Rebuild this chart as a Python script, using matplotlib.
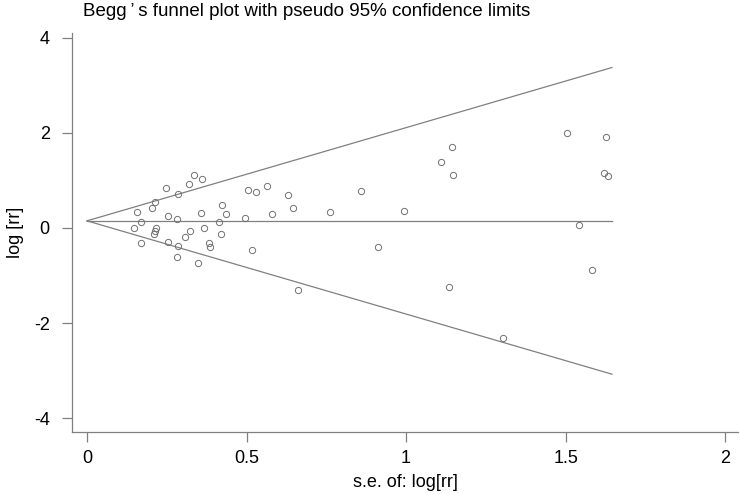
import numpy as np
import matplotlib
matplotlib.use("Agg")
import matplotlib.pyplot as plt

plt.rcParams['font.family'] = ['Liberation Sans', 'DejaVu Sans']
plt.rcParams['axes.unicode_minus'] = False

# standard error of log[rr] and log[rr] for each study
se = [0.156, 0.169, 0.147, 0.170, 0.205, 0.214, 0.217, 0.213, 0.210, 0.247,
      0.253, 0.253, 0.286, 0.281, 0.284, 0.281, 0.321, 0.335, 0.360, 0.324,
      0.308, 0.356, 0.367, 0.348, 0.381, 0.384, 0.414, 0.423, 0.435, 0.419,
      0.494, 0.503, 0.529, 0.516, 0.563, 0.581, 0.629, 0.644, 0.662, 0.760,
      0.858, 0.994, 0.911, 1.144, 1.110, 1.147, 1.135, 1.303, 1.504, 1.627,
      1.620, 1.634, 1.541, 1.583]
logrr = [0.34, 0.13, 0.01, -0.32, 0.42, 0.54, -0.01, -0.06, -0.13, 0.84,
         0.25, -0.30, 0.72, 0.18, -0.38, -0.60, 0.92, 1.11, 1.02, -0.06,
         -0.18, 0.32, 0.00, -0.74, -0.32, -0.40, 0.12, 0.48, 0.29, -0.13,
         0.20, 0.79, 0.76, -0.46, 0.88, 0.29, 0.69, 0.43, -1.31, 0.33,
         0.78, 0.36, -0.40, 1.71, 1.39, 1.12, -1.24, -2.31, 1.99, 1.92,
         1.15, 1.10, 0.06, -0.88]
pooled = 0.15
se_max = 1.645

fig = plt.figure(figsize=(7.4, 4.94), dpi=100)
ax = fig.add_axes([72 / 740, 62 / 494, 666 / 740, 399 / 494])

grey = '#808080'
s_line = np.array([0, se_max])
ax.plot(s_line, [pooled, pooled], color=grey, lw=0.9)
ax.plot(s_line, pooled + 1.96 * s_line, color=grey, lw=0.9)
ax.plot(s_line, pooled - 1.96 * s_line, color=grey, lw=0.9)
ax.plot(se, logrr, 'o', mfc='none', mec='#707070', ms=4.5, mew=0.7)

ax.set_xlim(-0.047, 2.04)
ax.set_ylim(-4.29, 4.1)
ax.set_xticks([0, 0.5, 1, 1.5, 2])
ax.set_xticklabels(['0', '0.5', '1', '1.5', '2'])
ax.set_yticks([-4, -2, 0, 2, 4])

for side in ['top', 'right']:
    ax.spines[side].set_visible(False)
for side in ['left', 'bottom']:
    ax.spines[side].set_color(grey)
    ax.spines[side].set_linewidth(0.9)
ax.tick_params(axis='both', colors=grey, length=7, width=0.9, labelsize=13,
               labelcolor='black')
ax.tick_params(axis='y', pad=9)
ax.tick_params(axis='x', pad=6)

ax.set_xlabel('s.e. of: log[rr]', fontsize=13, labelpad=5)
ax.set_ylabel('log [rr]', fontsize=13, labelpad=7)
fig.text(83 / 740, 1 - 12 / 494,
         'Begg\u2009\u2019\u2009s funnel plot with pseudo 95% confidence limits',
         fontsize=13.5, va='center', ha='left')

fig.savefig('out.png', dpi=100)
